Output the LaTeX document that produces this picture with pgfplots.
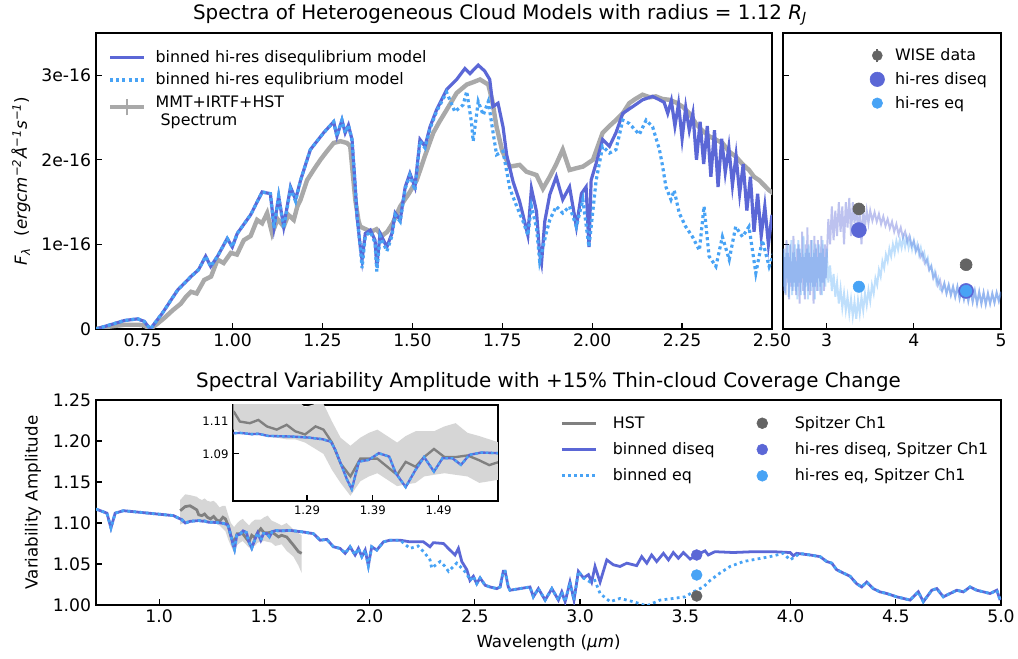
\documentclass[border=0pt]{standalone}
\usepackage{fontspec}
\setmainfont{DejaVu Sans}
\usepackage{pgfplots}
\pgfplotsset{compat=1.18}
\usepgfplotslibrary{fillbetween}
\usepackage{pgfplotstable}

\definecolor{diseq}{RGB}{91,103,214}
\definecolor{eqc}{RGB}{72,163,245}
\definecolor{specgray}{RGB}{169,169,169}
\definecolor{hstgray}{RGB}{128,128,128}
\definecolor{ptgray}{RGB}{100,100,100}
\definecolor{bandgray}{RGB}{214,214,214}

% top left: binned models and observed spectrum (flux in 1e-16)
\pgfplotstableread{
x y
0.620 0.00
0.660 0.05
0.699 0.10
0.736 0.12
0.754 0.09
0.771 0.00
0.805 0.19
0.847 0.46
0.884 0.62
0.905 0.70
0.925 0.86
0.939 0.74
0.958 0.86
0.985 1.07
0.999 0.97
1.013 1.13
1.050 1.35
1.082 1.62
1.105 1.60
1.115 1.21
1.128 1.57
1.142 1.21
1.161 1.68
1.175 1.53
1.189 1.76
1.216 2.12
1.253 2.32
1.281 2.45
1.290 2.28
1.304 2.47
1.313 2.32
1.322 2.41
1.332 2.24
1.341 1.68
1.346 1.33
1.355 0.97
1.360 0.82
1.369 1.13
1.383 1.17
1.396 1.05
1.401 0.74
1.410 1.13
1.429 0.97
1.443 1.13
1.452 1.37
1.466 1.29
1.480 1.68
1.493 1.84
1.507 1.68
1.521 2.24
1.535 2.16
1.549 2.39
1.567 2.59
1.595 2.83
1.623 2.95
1.646 3.08
1.660 3.02
1.683 3.12
1.701 3.05
1.715 2.95
1.724 2.63
1.738 2.67
1.752 2.39
1.762 2.06
1.780 1.74
1.798 1.51
1.812 1.27
1.821 1.11
1.831 1.66
1.845 1.39
1.854 0.88
1.859 0.78
1.868 1.27
1.882 1.59
1.900 1.80
1.918 1.53
1.937 1.68
1.956 1.21
1.970 1.60
1.983 1.68
1.991 0.97
1.997 1.76
2.011 1.96
2.029 2.24
2.048 2.16
2.066 2.32
2.085 2.55
2.113 2.63
2.140 2.71
2.168 2.75
2.187 2.71
2.200 2.68
2.210 2.55
2.220 2.70
2.230 2.40
2.240 2.66
2.250 2.25
2.260 2.62
2.270 2.35
2.280 2.55
2.290 2.00
2.300 2.45
2.310 1.95
2.320 2.40
2.330 1.80
2.340 2.35
2.350 1.68
2.360 2.25
2.370 1.85
2.380 2.15
2.390 1.70
2.400 2.05
2.410 1.60
2.420 1.95
2.430 1.40
2.440 1.80
2.450 1.15
2.460 1.60
2.470 1.10
2.480 1.45
2.490 1.00
2.500 1.35
}\tlDis

\pgfplotstableread{
x y
0.620 0.00
0.660 0.05
0.699 0.10
0.736 0.12
0.754 0.09
0.771 0.00
0.805 0.19
0.847 0.46
0.884 0.62
0.905 0.70
0.925 0.86
0.939 0.74
0.958 0.86
0.985 1.07
0.999 0.97
1.013 1.13
1.050 1.35
1.082 1.62
1.105 1.60
1.115 1.19
1.128 1.57
1.142 1.19
1.161 1.66
1.175 1.51
1.189 1.76
1.216 2.12
1.253 2.32
1.281 2.45
1.290 2.28
1.304 2.47
1.313 2.32
1.322 2.41
1.332 2.24
1.341 1.68
1.346 1.33
1.355 0.97
1.360 0.72
1.369 1.10
1.383 1.15
1.396 1.02
1.401 0.68
1.410 1.10
1.429 0.92
1.443 1.10
1.452 1.35
1.466 1.27
1.480 1.66
1.493 1.82
1.507 1.64
1.521 2.22
1.535 2.14
1.549 2.37
1.567 2.57
1.595 2.80
1.618 2.57
1.641 2.65
1.651 2.81
1.664 2.45
1.669 2.22
1.683 2.69
1.697 2.53
1.711 2.69
1.724 2.33
1.734 2.06
1.752 2.10
1.771 1.66
1.790 1.45
1.808 1.27
1.821 1.11
1.831 1.45
1.845 1.20
1.854 0.80
1.873 1.15
1.882 1.29
1.900 1.45
1.918 1.37
1.937 1.45
1.956 1.21
1.974 1.53
1.991 0.97
2.011 1.76
2.029 2.16
2.048 2.08
2.066 2.12
2.085 2.47
2.103 2.43
2.131 2.30
2.150 2.47
2.168 2.39
2.187 2.12
2.196 1.92
2.205 1.68
2.219 1.53
2.228 1.64
2.242 1.37
2.260 1.21
2.279 1.09
2.298 0.93
2.311 1.45
2.325 0.86
2.344 0.74
2.362 1.09
2.381 0.82
2.399 1.21
2.418 1.09
2.436 1.21
2.455 0.66
2.473 1.05
2.492 0.74
2.505 0.90
}\tlEq

\pgfplotstableread{
x y
0.620 0.00
0.660 0.03
0.699 0.05
0.740 0.05
0.754 0.04
0.771 0.00
0.790 0.06
0.810 0.13
0.833 0.22
0.856 0.30
0.870 0.38
0.884 0.44
0.900 0.42
0.921 0.58
0.940 0.62
0.958 0.82
0.975 0.78
0.995 0.90
1.012 0.88
1.031 1.05
1.050 1.10
1.068 1.29
1.082 1.25
1.096 1.37
1.110 1.13
1.125 1.30
1.142 1.21
1.155 1.35
1.170 1.29
1.180 1.45
1.189 1.53
1.207 1.76
1.225 1.88
1.244 2.00
1.262 2.10
1.281 2.20
1.300 2.22
1.318 2.20
1.327 2.16
1.341 1.53
1.350 1.28
1.355 1.21
1.370 1.18
1.385 1.15
1.400 1.18
1.415 1.10
1.430 1.15
1.445 1.25
1.466 1.45
1.490 1.60
1.512 1.76
1.535 2.05
1.558 2.32
1.575 2.45
1.595 2.59
1.623 2.79
1.651 2.89
1.670 2.92
1.688 2.95
1.711 2.89
1.722 2.70
1.734 2.39
1.750 2.10
1.771 1.92
1.798 1.94
1.817 1.86
1.845 1.82
1.863 1.66
1.882 1.80
1.900 1.95
1.918 2.12
1.937 1.88
1.955 1.90
1.974 1.92
2.002 2.00
2.029 2.32
2.048 2.40
2.066 2.47
2.085 2.55
2.103 2.67
2.120 2.72
2.140 2.77
2.160 2.74
2.177 2.75
2.195 2.72
2.214 2.71
2.232 2.68
2.251 2.63
2.270 2.55
2.288 2.43
2.305 2.35
2.325 2.28
2.343 2.24
2.362 2.20
2.380 2.10
2.399 2.04
2.418 1.95
2.436 1.88
2.450 1.80
2.464 1.76
2.478 1.70
2.492 1.64
2.505 1.60
}\tlSpec

% top right: hi-res models beyond 2.5 micron
\pgfplotstableread{
x y
2.50 0.95
2.51 0.45
2.52 0.85
2.53 0.40
2.54 1.05
2.55 0.55
2.56 0.90
2.57 0.35
2.58 1.00
2.59 0.50
2.60 0.80
2.61 0.45
2.62 1.10
2.63 0.55
2.64 0.85
2.65 0.40
2.66 0.95
2.67 0.50
2.68 1.00
2.69 0.30
2.70 0.90
2.71 0.55
2.72 1.15
2.73 0.45
2.74 0.85
2.75 0.35
2.76 1.00
2.77 0.55
2.78 1.20
2.79 0.45
2.80 0.90
2.81 0.40
2.82 1.05
2.83 0.55
2.84 0.85
2.85 0.30
2.86 1.10
2.87 0.50
2.88 0.95
2.89 0.45
2.90 1.05
2.91 0.60
2.92 0.90
2.93 0.40
2.94 1.10
2.95 0.55
2.96 0.95
2.97 0.45
2.98 1.00
2.99 0.60
3.00 0.80
3.02 1.30
3.04 1.00
3.06 1.45
3.08 1.05
3.10 1.40
3.12 1.10
3.14 1.50
3.16 1.15
3.18 1.45
3.20 1.00
3.22 1.50
3.24 1.20
3.26 1.55
3.28 1.10
3.30 1.50
3.32 1.25
3.34 1.45
3.36 1.15
3.38 1.40
3.40 1.00
3.42 1.42
3.44 1.20
3.46 1.40
3.48 1.25
3.500 1.40
3.525 1.28
3.550 1.38
3.575 1.27
3.600 1.36
3.625 1.24
3.650 1.33
3.675 1.22
3.700 1.30
3.725 1.19
3.750 1.27
3.775 1.15
3.800 1.24
3.825 1.12
3.850 1.20
3.875 1.08
3.900 1.15
3.925 1.03
3.950 1.10
3.975 0.98
4.000 1.04
4.025 0.92
4.050 0.98
4.075 0.85
4.100 0.90
4.125 0.78
4.150 0.82
4.175 0.70
4.200 0.74
4.225 0.60
4.250 0.66
4.275 0.52
4.300 0.58
4.325 0.45
4.350 0.54
4.375 0.42
4.400 0.52
4.425 0.40
4.450 0.50
4.475 0.38
4.500 0.50
4.525 0.36
4.550 0.48
4.575 0.35
4.600 0.47
4.625 0.33
4.650 0.46
4.675 0.32
4.700 0.45
4.725 0.30
4.750 0.44
4.775 0.30
4.800 0.43
4.825 0.29
4.850 0.42
4.875 0.30
4.900 0.42
4.925 0.31
4.950 0.43
4.975 0.33
5.000 0.44
}\trDis

\pgfplotstableread{
x y
2.505 0.50
2.515 0.95
2.525 0.42
2.535 0.90
2.545 0.60
2.555 1.00
2.565 0.38
2.575 0.85
2.585 0.55
2.595 1.05
2.605 0.40
2.615 0.90
2.625 0.50
2.635 1.00
2.645 0.45
2.655 0.80
2.665 0.35
2.675 1.05
2.685 0.55
2.695 0.95
2.705 0.40
2.715 0.85
2.725 0.60
2.735 1.10
2.745 0.40
2.755 0.90
2.765 0.50
2.775 0.95
2.785 0.35
2.795 1.00
2.805 0.55
2.815 0.85
2.825 0.45
2.835 1.05
2.845 0.50
2.855 0.90
2.865 0.35
2.875 1.00
2.885 0.55
2.895 0.85
2.905 0.45
2.915 1.00
2.925 0.50
2.935 0.90
2.945 0.40
2.955 1.05
2.965 0.55
2.975 0.85
2.985 0.50
3.00 0.95
3.02 0.55
3.04 0.75
3.06 0.45
3.08 0.65
3.10 0.38
3.12 0.55
3.14 0.30
3.16 0.48
3.18 0.25
3.20 0.42
3.22 0.22
3.24 0.38
3.26 0.18
3.28 0.35
3.30 0.15
3.32 0.32
3.34 0.12
3.36 0.34
3.38 0.18
3.40 0.38
3.42 0.22
3.44 0.42
3.46 0.28
3.48 0.46
3.50 0.33
3.52 0.52
3.54 0.42
3.56 0.60
3.58 0.52
3.60 0.70
3.62 0.62
3.64 0.80
3.66 0.72
3.68 0.88
3.70 0.80
3.72 0.95
3.74 0.86
3.76 1.00
3.78 0.90
3.80 1.04
3.82 0.94
3.84 1.06
3.86 0.96
3.88 1.08
3.90 0.97
3.92 1.08
3.94 0.96
3.96 1.06
3.98 0.94
4.00 1.04
4.02 0.92
4.04 1.00
4.06 0.88
4.08 0.96
4.10 0.84
4.12 0.90
4.14 0.78
4.16 0.84
4.18 0.70
4.20 0.75
4.22 0.62
4.24 0.68
4.26 0.54
4.28 0.60
4.30 0.47
4.325 0.45
4.350 0.54
4.375 0.42
4.400 0.52
4.425 0.40
4.450 0.50
4.475 0.38
4.500 0.50
4.525 0.36
4.550 0.48
4.575 0.35
4.600 0.47
4.625 0.33
4.650 0.46
4.675 0.32
4.700 0.45
4.725 0.30
4.750 0.44
4.775 0.30
4.800 0.43
4.825 0.29
4.850 0.42
4.875 0.30
4.900 0.42
4.925 0.31
4.950 0.43
4.975 0.33
5.000 0.44
}\trEq

% bottom: variability amplitude
\pgfplotstableread{
x y
0.700 1.117
0.752 1.112
0.771 1.094
0.791 1.112
0.830 1.115
0.910 1.113
0.989 1.111
1.068 1.109
1.108 1.104
1.124 1.100
1.147 1.102
1.179 1.1028
1.188 1.1030
1.206 1.1022
1.216 1.1024
1.231 1.1011
1.267 1.1007
1.292 1.1001
1.313 1.0991
1.326 1.0976
1.333 1.0925
1.343 1.0822
1.351 1.0739
1.358 1.0681
1.369 1.0852
1.384 1.0863
1.399 1.0904
1.415 1.0883
1.425 1.0780
1.440 1.0694
1.455 1.0801
1.468 1.0880
1.483 1.0790
1.496 1.0873
1.511 1.0873
1.524 1.0832
1.537 1.0894
1.555 1.0908
1.582 1.0904
1.622 1.091
1.686 1.089
1.733 1.087
1.765 1.079
1.797 1.080
1.828 1.071
1.860 1.069
1.884 1.063
1.907 1.071
1.931 1.061
1.947 1.069
1.963 1.059
1.979 1.067
1.994 1.048
2.010 1.071
2.034 1.067
2.066 1.077
2.097 1.079
2.145 1.079
2.192 1.077
2.256 1.077
2.287 1.071
2.303 1.076
2.351 1.075
2.382 1.067
2.406 1.061
2.422 1.069
2.438 1.053
2.462 1.043
2.477 1.030
2.493 1.035
2.509 1.026
2.525 1.033
2.549 1.024
2.572 1.022
2.604 1.020
2.620 1.022
2.635 1.041
2.644 1.041
2.659 1.022
2.667 1.018
2.715 1.020
2.762 1.022
2.778 1.010
2.802 1.020
2.834 1.006
2.866 1.020
2.897 1.006
2.913 1.016
2.929 1.004
2.952 1.028
2.971 1.006
2.992 1.041
3.016 1.033
3.040 1.037
3.055 1.028
3.071 1.047
3.095 1.028
3.127 1.055
3.158 1.049
3.190 1.047
3.222 1.051
3.269 1.048
3.293 1.059
3.317 1.051
3.340 1.061
3.364 1.053
3.396 1.063
3.420 1.055
3.443 1.064
3.467 1.057
3.491 1.064
3.523 1.056
3.554 1.061
3.594 1.066
3.609 1.061
3.641 1.065
3.728 1.064
3.823 1.065
3.918 1.065
3.998 1.064
4.013 1.060
4.029 1.063
4.093 1.061
4.140 1.059
4.172 1.053
4.196 1.051
4.219 1.043
4.251 1.039
4.283 1.035
4.314 1.026
4.338 1.022
4.362 1.028
4.393 1.020
4.425 1.016
4.457 1.014
4.504 1.010
4.536 1.008
4.568 1.006
4.607 1.016
4.631 1.004
4.671 1.018
4.695 1.020
4.726 1.010
4.758 1.014
4.790 1.018
4.821 1.016
4.853 1.022
4.885 1.018
4.917 1.016
4.948 1.014
4.980 1.018
4.996 1.006
}\bDis

\pgfplotstableread{
x y
0.700 1.117
0.752 1.112
0.771 1.094
0.791 1.112
0.830 1.115
0.910 1.113
0.989 1.111
1.068 1.109
1.108 1.104
1.124 1.100
1.147 1.102
1.179 1.1028
1.188 1.1030
1.206 1.1022
1.216 1.1024
1.231 1.1011
1.267 1.1007
1.292 1.1001
1.313 1.0991
1.326 1.0976
1.333 1.0925
1.343 1.0822
1.351 1.0739
1.358 1.0681
1.369 1.0852
1.384 1.0863
1.399 1.0904
1.415 1.0883
1.425 1.0780
1.440 1.0694
1.455 1.0801
1.468 1.0880
1.483 1.0790
1.496 1.0873
1.511 1.0873
1.524 1.0832
1.537 1.0894
1.555 1.0908
1.582 1.0904
1.622 1.091
1.686 1.089
1.733 1.087
1.765 1.079
1.797 1.080
1.828 1.071
1.860 1.069
1.884 1.063
1.907 1.071
1.931 1.061
1.947 1.069
1.963 1.059
1.979 1.067
1.994 1.048
2.010 1.071
2.034 1.067
2.066 1.077
2.097 1.079
2.145 1.079
2.192 1.069
2.230 1.072
2.260 1.064
2.287 1.055
2.295 1.045
2.335 1.053
2.355 1.048
2.375 1.041
2.414 1.051
2.438 1.045
2.462 1.038
2.477 1.030
2.493 1.035
2.509 1.026
2.525 1.033
2.549 1.024
2.572 1.022
2.604 1.020
2.620 1.022
2.635 1.041
2.644 1.041
2.659 1.022
2.667 1.018
2.715 1.020
2.762 1.022
2.778 1.010
2.802 1.020
2.834 1.006
2.866 1.020
2.897 1.006
2.913 1.016
2.929 1.004
2.952 1.028
2.971 1.006
2.992 1.041
3.016 1.033
3.048 1.028
3.070 1.030
3.095 1.014
3.143 1.004
3.190 1.008
3.253 1.004
3.317 0.999
3.380 1.006
3.443 1.008
3.499 1.010
3.538 1.016
3.586 1.022
3.618 1.030
3.665 1.039
3.713 1.047
3.776 1.053
3.839 1.056
3.903 1.059
3.966 1.063
3.998 1.055
4.045 1.063
4.093 1.061
4.140 1.059
4.172 1.053
4.196 1.051
4.219 1.043
4.251 1.039
4.283 1.035
4.314 1.026
4.338 1.022
4.362 1.028
4.393 1.020
4.425 1.016
4.457 1.014
4.504 1.010
4.536 1.008
4.568 1.006
4.607 1.016
4.631 1.004
4.671 1.018
4.695 1.020
4.726 1.010
4.758 1.014
4.790 1.018
4.821 1.016
4.853 1.022
4.885 1.018
4.917 1.016
4.948 1.014
4.980 1.018
4.996 1.006
}\bEq

\pgfplotstableread{
x y lo hi
1.100 1.115 1.098 1.128
1.124 1.120 1.101 1.135
1.147 1.121 1.103 1.134
1.179 1.116 1.105 1.132
1.188 1.110 1.104 1.130
1.203 1.109 1.103 1.128
1.216 1.111 1.103 1.130
1.229 1.107 1.101 1.127
1.244 1.105 1.100 1.126
1.259 1.108 1.099 1.127
1.272 1.104 1.099 1.124
1.287 1.102 1.097 1.119
1.303 1.107 1.093 1.121
1.315 1.105 1.090 1.121
1.328 1.097 1.080 1.110
1.341 1.084 1.072 1.100
1.356 1.076 1.064 1.095
1.371 1.087 1.073 1.100
1.384 1.087 1.076 1.103
1.397 1.087 1.078 1.105
1.412 1.082 1.074 1.101
1.427 1.077 1.070 1.097
1.440 1.085 1.071 1.101
1.455 1.082 1.072 1.104
1.468 1.088 1.076 1.104
1.483 1.093 1.077 1.104
1.499 1.088 1.078 1.107
1.516 1.088 1.077 1.109
1.534 1.089 1.076 1.103
1.552 1.086 1.072 1.101
1.567 1.083 1.073 1.099
1.582 1.085 1.074 1.097
1.606 1.083 1.066 1.100
1.638 1.073 1.059 1.092
1.662 1.065 1.048 1.088
1.677 1.063 1.039 1.085
}\hst

\pgfplotsset{
  mpl/.style={
    scale only axis,
    anchor=south west,
    axis line style={line width=1.4bp},
    tick align=inside,
    xtick pos=bottom, ytick pos=left,
    major tick length=4.3bp,
    every tick/.style={black, line width=0.9bp},
    tick label style={font=\fontsize{12.4bp}{14bp}\selectfont},
    /pgf/number format/assume math mode=true,
    label style={font=\fontsize{12bp}{14bp}\selectfont},
    legend style={font=\fontsize{11.4bp}{13.6bp}\selectfont, draw=none, fill=none,
      inner sep=0pt, row sep=4.8bp},
    legend cell align=left,
  },
  lineleg/.style={legend image code/.code={\draw[##1] (0bp,0bp) -- (24.5bp,0bp);}},
}

\begin{document}
\begin{tikzpicture}

\node[font=\fontsize{14.3bp}{17bp}\selectfont] at (360bp,463bp)
  {Spectra of Heterogeneous Cloud Models with radius = 1.12 \textit{R}\textsubscript{\textit{J}}};
\node[font=\fontsize{14.3bp}{17bp}\selectfont] at (394.9bp,199bp)
  {Spectral Variability Amplitude with +15\% Thin-cloud Coverage Change};

% ---- top left ----
\begin{axis}[mpl, at={(69.12bp,236.88bp)}, width=486.72bp, height=213.12bp,
  xmin=0.62, xmax=2.5, ymin=0, ymax=3.5,
  xtick={0.75,1.00,1.25,1.50,1.75,2.00,2.25,2.50},
  xticklabel style={/pgf/number format/.cd, fixed, fixed zerofill, precision=2},
  ytick={0,1,2,3}, yticklabels={0,1e-16,2e-16,3e-16},
  ylabel={\textit{F}\textsubscript{\textit{λ}}\hspace{0.7em}(\textit{ergcm}\textsuperscript{\textit{−2}}\textit{Å}\textsuperscript{\textit{−1}}\textit{s}\textsuperscript{\textit{−1}})},
  ylabel style={at={(axis description cs:-0.111,0.5)}, anchor=center},
  legend style={at={(axis description cs:0.018,0.951)}, anchor=north west, row sep=1.9bp,
    /tikz/every odd column/.append style={column sep=5bp}},
]
\addlegendimage{lineleg, diseq, line width=2.5bp}
\addlegendentry{binned hi-res disequlibrium model}
\addlegendimage{lineleg, eqc, line width=2.5bp, dash pattern=on 2.2bp off 2.2bp}
\addlegendentry{binned hi-res equlibrium model}
\addlegendimage{legend image code/.code={\draw[specgray, line width=2.2bp] (0bp,0bp) -- (24.5bp,0bp);
  \draw[specgray, line width=1.6bp] (12.25bp,-6bp) -- (12.25bp,6bp);}}
\addlegendentry{\renewcommand{\arraystretch}{0.95}\begin{tabular}{@{}l@{}}MMT+IRTF+HST\\\ Spectrum\end{tabular}}
\addplot[specgray, line width=3.2bp, forget plot] table {\tlSpec};
\addplot[diseq, line width=2.3bp, forget plot] table {\tlDis};
\addplot[eqc, line width=2.3bp, dash pattern=on 2.2bp off 2.2bp, forget plot] table {\tlEq};
\end{axis}

% ---- top right ----
\begin{axis}[mpl, at={(563.76bp,236.88bp)}, width=156.96bp, height=213.12bp,
  xmin=2.5, xmax=5, ymin=0, ymax=3.5,
  xtick={3,4,5}, ytick={1,2,3}, yticklabels={},
  legend style={at={(axis description cs:0.393,0.958)}, anchor=north west, row sep=3bp,
    /tikz/every odd column/.append style={column sep=4.8bp}},
]
\addlegendimage{legend image code/.code={\path[draw=none, fill=none] (0bp,-5.4bp) rectangle (12bp,5.4bp);
  \draw[ptgray, line width=1.2bp] (6bp,-5bp) -- (6bp,5bp); \fill[ptgray] (6bp,0bp) circle (3.6bp);}}
\addlegendentry{WISE data}
\addlegendimage{legend image code/.code={\path[draw=none, fill=none] (0bp,-5.4bp) rectangle (12bp,5.4bp);
  \fill[diseq] (6bp,0bp) circle (5.2bp);}}
\addlegendentry{hi-res diseq}
\addlegendimage{legend image code/.code={\path[draw=none, fill=none] (0bp,-5.4bp) rectangle (12bp,5.4bp);
  \fill[eqc] (6bp,0bp) circle (3.8bp);}}
\addlegendentry{hi-res eq}
\addplot[diseq, opacity=0.4, line width=1.4bp, forget plot] table {\trDis};
\addplot[eqc, opacity=0.35, line width=1.4bp, forget plot] table {\trEq};
\addplot[only marks, mark=*, mark size=4.3bp, ptgray, forget plot,
  error bars/.cd, y dir=both, y explicit, error bar style={line width=1bp}]
  table[y error=e] {
x y e
3.37 1.42 0.03
4.60 0.76 0.03
};
\addplot[only marks, mark=*, mark size=5.4bp, diseq, forget plot] table {
x y
3.37 1.17
4.60 0.45
};
\addplot[only marks, mark=*, mark size=4.1bp, eqc, forget plot] table {
x y
3.37 0.50
4.60 0.45
};
\end{axis}

% ---- bottom ----
\begin{axis}[mpl, at={(69.12bp,38.16bp)}, width=651.6bp, height=147.6bp,
  xmin=0.7, xmax=5, ymin=1, ymax=1.25,
  xtick={1.0,1.5,2.0,2.5,3.0,3.5,4.0,4.5,5.0},
  ytick={1.00,1.05,1.10,1.15,1.20,1.25},
  xticklabel style={/pgf/number format/.cd, fixed, fixed zerofill, precision=1},
  yticklabel style={/pgf/number format/.cd, fixed, fixed zerofill, precision=2},
  xlabel={Wavelength (\textit{μm})},
  xlabel style={at={(axis description cs:0.5,-0.185)}, anchor=center},
  ylabel={Variability Amplitude},
  ylabel style={at={(axis description cs:-0.0696,0.5)}, anchor=center},
  legend columns=3, transpose legend,
  legend style={at={(axis description cs:0.513,0.936)}, anchor=north west,
    /tikz/every odd column/.append style={column sep=9.2bp},
    /tikz/every even column/.append style={column sep=20bp}},
]
\addlegendimage{lineleg, hstgray, line width=2bp}
\addlegendentry{HST}
\addlegendimage{lineleg, diseq, line width=2bp}
\addlegendentry{binned diseq}
\addlegendimage{lineleg, eqc, line width=2bp, dash pattern=on 2bp off 2.4bp}
\addlegendentry{binned eq}
\addlegendimage{legend image code/.code={\path[draw=none, fill=none] (0bp,-4bp) rectangle (24.5bp,4bp);
  \fill[ptgray] (12.25bp,0bp) circle (3.9bp);}}
\addlegendentry{Spitzer Ch1}
\addlegendimage{legend image code/.code={\path[draw=none, fill=none] (0bp,-4bp) rectangle (24.5bp,4bp);
  \fill[diseq] (12.25bp,0bp) circle (3.9bp);}}
\addlegendentry{hi-res diseq, Spitzer Ch1}
\addlegendimage{legend image code/.code={\path[draw=none, fill=none] (0bp,-4bp) rectangle (24.5bp,4bp);
  \fill[eqc] (12.25bp,0bp) circle (3.9bp);}}
\addlegendentry{hi-res eq, Spitzer Ch1}
\addplot[name path=bhi, draw=none, forget plot] table[x=x, y=hi] {\hst};
\addplot[name path=blo, draw=none, forget plot] table[x=x, y=lo] {\hst};
\addplot[bandgray, forget plot] fill between[of=bhi and blo];
\addplot[hstgray, line width=2bp, forget plot] table[x=x, y=y] {\hst};
\addplot[diseq, line width=2bp, forget plot] table {\bDis};
\addplot[eqc, line width=2bp, dash pattern=on 2bp off 2.4bp, forget plot] table {\bEq};
\addplot[only marks, mark=*, mark size=3.9bp, ptgray, forget plot] table {
x y
3.554 1.011
};
\addplot[only marks, mark=*, mark size=3.9bp, diseq, forget plot] table {
x y
3.554 1.061
};
\addplot[only marks, mark=*, mark size=3.9bp, eqc, forget plot] table {
x y
3.554 1.0366
};
\end{axis}

% ---- inset ----
\begin{axis}[mpl, at={(168bp,113.3bp)}, width=190.4bp, height=68.9bp,
  xmin=1.178, xmax=1.58, ymin=1.061, ymax=1.1203,
  axis background/.style={fill=white},
  xtick={1.29,1.39,1.49}, ytick={1.09,1.11},
  tick label style={font=\fontsize{8.4bp}{10bp}\selectfont},
  xticklabel style={/pgf/number format/.cd, fixed, fixed zerofill, precision=2},
  yticklabel style={/pgf/number format/.cd, fixed, fixed zerofill, precision=2},
]
\addplot[name path=ihi, draw=none, forget plot] table[x=x, y=hi] {\hst};
\addplot[name path=ilo, draw=none, forget plot] table[x=x, y=lo] {\hst};
\addplot[bandgray, forget plot] fill between[of=ihi and ilo];
\addplot[hstgray, line width=1.7bp, forget plot] table[x=x, y=y] {\hst};
\addplot[diseq, line width=1.7bp, forget plot] table {\bDis};
\addplot[eqc, line width=1.7bp, dash pattern=on 1.8bp off 2bp, forget plot] table {\bEq};
\end{axis}

\pgfresetboundingbox
\useasboundingbox (0,0) rectangle (732.96bp,473.76bp);
\end{tikzpicture}
\end{document}
